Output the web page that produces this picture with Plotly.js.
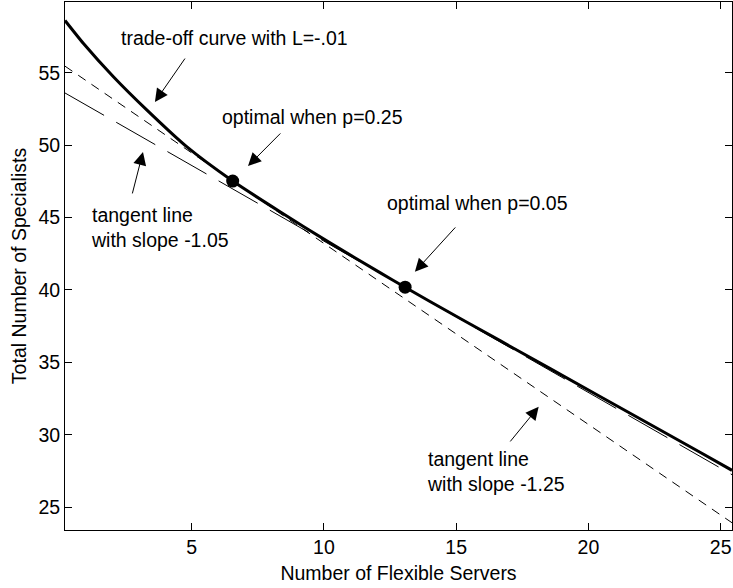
<!DOCTYPE html>
<html>
<head>
<meta charset="utf-8">
<script src="https://cdn.plot.ly/plotly-3.0.1.min.js"></script>
<style>html,body{margin:0;padding:0;background:#fff;}#chart{width:733px;height:588px;}</style>
</head>
<body>
<div id="chart"></div>
<script>
// Trade-off curve (L = -.01)
const curveX = [0.21, 0.90, 2.04, 3.30, 4.81, 6.55, 8.34, 10.23, 12.12, 13.07, 14.01, 16.66, 20.44, 24.22, 25.43];
const curveY = [58.6, 57.03, 54.72, 52.43, 49.89, 47.52, 45.4, 43.25, 41.2, 40.19, 39.2, 36.5, 32.65, 28.8, 27.55];
// Tangent line with slope -1.25 (short dashes)
const tanSteepX = [0.21, 25.43];
const tanSteepY = [55.45, 23.93];
// Tangent line with slope -1.05 (long dashes)
const tanFlatX = [0.21, 25.43];
const tanFlatY = [53.6, 27.25];
// Optimal points (p=0.25, p=0.05)
const optX = [6.55, 13.07];
const optY = [47.52, 40.19];
// Ticks
const xTicks = [5, 10, 15, 20, 25];
const yTicks = [25, 30, 35, 40, 45, 50, 55];
// Annotation texts
const labelCurve = 'trade-off curve with L=-.01';
const labelOpt25 = 'optimal when p=0.25';
const labelOpt05 = 'optimal when p=0.05';
const labelTan105 = 'tangent line<br>with slope -1.05';
const labelTan125 = 'tangent line<br>with slope -1.25';

const FONT = 'Liberation Sans, Arial, Helvetica, sans-serif';
const FS = 19.5;

const traces = [
  {x: tanSteepX, y: tanSteepY, mode: 'lines', line: {color: '#000', width: 1, dash: '9px,7px'}, hoverinfo: 'skip'},
  {x: tanFlatX, y: tanFlatY, mode: 'lines', line: {color: '#000', width: 1, dash: '45px,14px'}, hoverinfo: 'skip'},
  {x: curveX, y: curveY, mode: 'lines', line: {color: '#000', width: 3, shape: 'spline', smoothing: 0.6}, hoverinfo: 'skip'},
  {x: optX, y: optY, mode: 'markers', marker: {color: '#000', size: 13}, hoverinfo: 'skip'}
];

function txt(x, y, t) {
  return {x: x, y: y, xref: 'x', yref: 'y', text: t, showarrow: false, xanchor: 'left', yanchor: 'middle', align: 'left',
          borderpad: 0, borderwidth: 0, font: {family: FONT, size: FS, color: '#000'}};
}
function arr(x, y, ax, ay) {
  return {x: x, y: y, ax: ax, ay: ay, xref: 'x', yref: 'y', axref: 'x', ayref: 'y', text: '', showarrow: true,
          arrowhead: 2, arrowsize: 2.6, arrowwidth: 1, arrowcolor: '#000', standoff: 0, startstandoff: 0};
}

const layout = {
  width: 733, height: 588,
  margin: {l: 65, r: 1, t: 2, b: 58},
  paper_bgcolor: '#fff', plot_bgcolor: '#fff',
  showlegend: false,
  font: {family: FONT, size: FS, color: '#000'},
  xaxis: {
    range: [0.21, 25.43], tickvals: xTicks, ticktext: xTicks.map(String),
    ticks: 'inside', ticklen: 7, tickwidth: 1, tickcolor: '#000',
    showline: true, linecolor: '#000', linewidth: 1, mirror: 'ticks',
    showgrid: false, zeroline: false,
    tickfont: {family: FONT, size: FS, color: '#000'},
    title: {text: 'Number of Flexible Servers', font: {family: FONT, size: FS, color: '#000'}, standoff: 8}
  },
  yaxis: {
    range: [23.43, 59.88], tickvals: yTicks, ticktext: yTicks.map(String),
    ticks: 'inside', ticklen: 7, tickwidth: 1, tickcolor: '#000',
    showline: true, linecolor: '#000', linewidth: 1, mirror: 'ticks',
    showgrid: false, zeroline: false,
    tickfont: {family: FONT, size: FS, color: '#000'},
    title: {text: 'Total Number of Specialists', font: {family: FONT, size: FS, color: '#000'}, standoff: 6}
  },
  annotations: [
    txt(2.34, 57.40, labelCurve),
    arr(3.61, 52.98, 4.785, 56.08),
    txt(6.16, 51.96, labelOpt25),
    arr(7.13, 48.56, 8.41, 50.91),
    txt(1.21, 44.31, labelTan105),
    arr(3.159, 49.53, 2.743, 46.56),
    txt(12.40, 46.01, labelOpt05),
    arr(13.44, 41.26, 15.02, 44.42),
    txt(13.88, 27.46, labelTan125),
    arr(18.12, 31.94, 17.0, 29.44)
  ]
};

Plotly.newPlot('chart', traces, layout, {displayModeBar: false, staticPlot: true});
</script>
</body>
</html>
